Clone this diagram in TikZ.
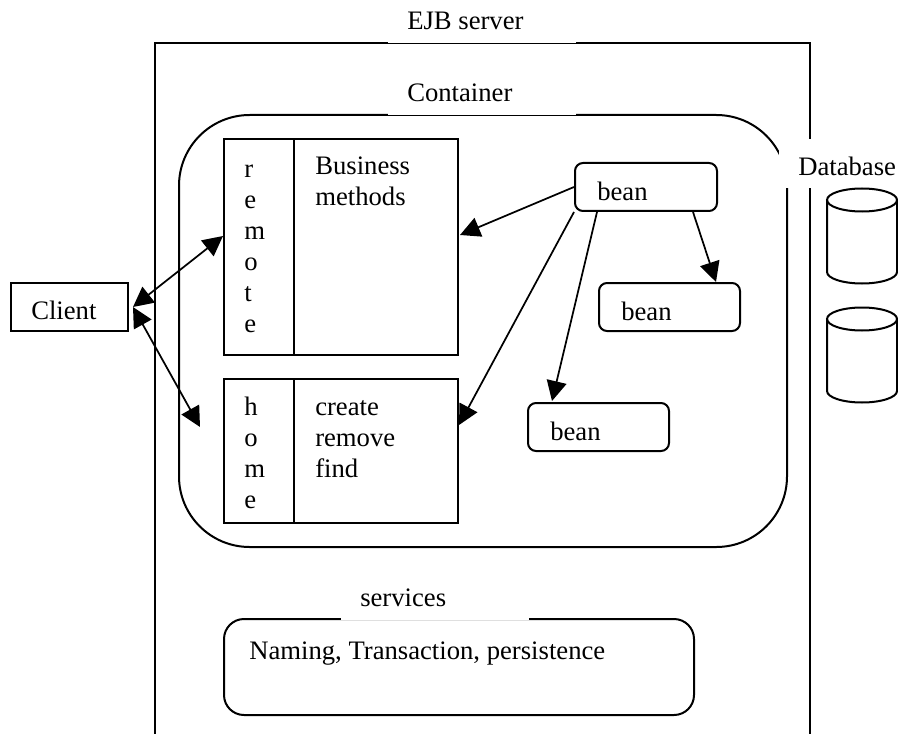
\documentclass[tikz,border=0pt]{standalone}
\usepackage{fontspec}
\setmainfont{Liberation Serif}
\usetikzlibrary{arrows.meta,calc}
\tikzset{
  unitbox/.style={draw,line width=1.5pt,inner sep=0pt},
  roundbox/.style={unitbox,rounded corners=6pt},
  lbl/.style={inner sep=0pt,anchor=base west,font=\fontsize{20}{23.25}\selectfont},
  stack/.style={lbl,align=left},
  conn/.style={line width=1.3pt,-{Triangle[length=15pt,width=15pt]}},
  conn2/.style={line width=1.3pt,{Triangle[length=15pt,width=15pt]}-{Triangle[length=15pt,width=15pt]}},
  wline/.style={line width=1.5pt}
}
\begin{document}
\begin{tikzpicture}[x=0.75pt,y=-0.75pt]
\useasboundingbox (0,0) rectangle (898,734);
% server
\draw[wline] (155,734) -- (155,43) -- (810,43) -- (810,734);
% container
\draw[wline,rounded corners=53pt] (179,115) rectangle (787,547);
% masks
\fill[white] (388,34) rectangle (576,42.6);
\fill[white] (388,106) rectangle (576,114.6);
\fill[white] (779,139) rectangle (898,188);
\node[lbl] (ejb) at (407,30) {EJB server};
\node[lbl] (cont) at (407,102) {Container};
\node[lbl] (db) at (798,176) {Database};
% cylinders
\foreach \t/\n in {200/a,319/b}{
  \draw[wline] (827,\t) -- (827,\t+72) arc[start angle=180,end angle=0,x radius=35,y radius=11.5] -- (897,\t);
  \draw[wline] (862,\t) ellipse[x radius=35,y radius=11.5];
}
% client
\node[unitbox,minimum width=87.75pt,minimum height=36pt] (client) at (69.5,307) {};
\node[lbl] (clientt) at (31,319) {Client};
% remote
\node[unitbox,minimum width=175.5pt,minimum height=162pt] (remote) at (341,247) {};
\draw[wline] (294,139) -- (294,355);
\node[stack] (remotet) at (244,332) {r\\e\\m\\o\\t\\e};
\node[stack] (bm) at (315,205) {Business\\methods};
% home
\node[unitbox,minimum width=175.5pt,minimum height=108pt] (home) at (341,451) {};
\draw[wline] (294,379) -- (294,523);
\node[stack] (homet) at (244,508) {h\\o\\m\\e};
\node[stack] (crf) at (315,477) {create\\remove\\find};
% beans
\node[roundbox,minimum width=106.5pt,minimum height=36pt] (bean1) at (646,187) {};
\node[roundbox,minimum width=105.75pt,minimum height=36pt] (bean2) at (669.5,307) {};
\node[roundbox,minimum width=105.75pt,minimum height=36pt] (bean3) at (598.5,427) {};
\node[lbl] (b1t) at (597,200) {bean};
\node[lbl] (b2t) at (621,320) {bean};
\node[lbl] (b3t) at (550,440) {bean};
% services
\node[unitbox,rounded corners=15pt,minimum width=352.5pt,minimum height=72pt] (svc) at (459,667) {};
\fill[white] (341,612) rectangle (529,619.8);
\node[lbl] (svct) at (360,606) {services};
\node[lbl] (nam) at (249,659) {Naming, Transaction, persistence};
% connectors
\coordinate (homeend) at (200,427);
\draw[conn2] ([shift={(4,0)}]client.east) -- ([shift={(0,-11)}]remote.west);
\draw[conn2] ([shift={(4,0)}]client.east) -- (homeend);
\draw[conn] (bean1.west) -- ([shift={(1,-12)}]remote.east);
\draw[conn] (bean1.south west) -- ([shift={(0,-26)}]home.east);
\draw[conn] ([shift={(23,0)}]bean1.south west) -- ([shift={(-46.5,-1)}]bean3.north);
\draw[conn] ([shift={(47,0)}]bean1.south) -- ([shift={(46.5,0)}]bean2.north);
\end{tikzpicture}
\end{document}
